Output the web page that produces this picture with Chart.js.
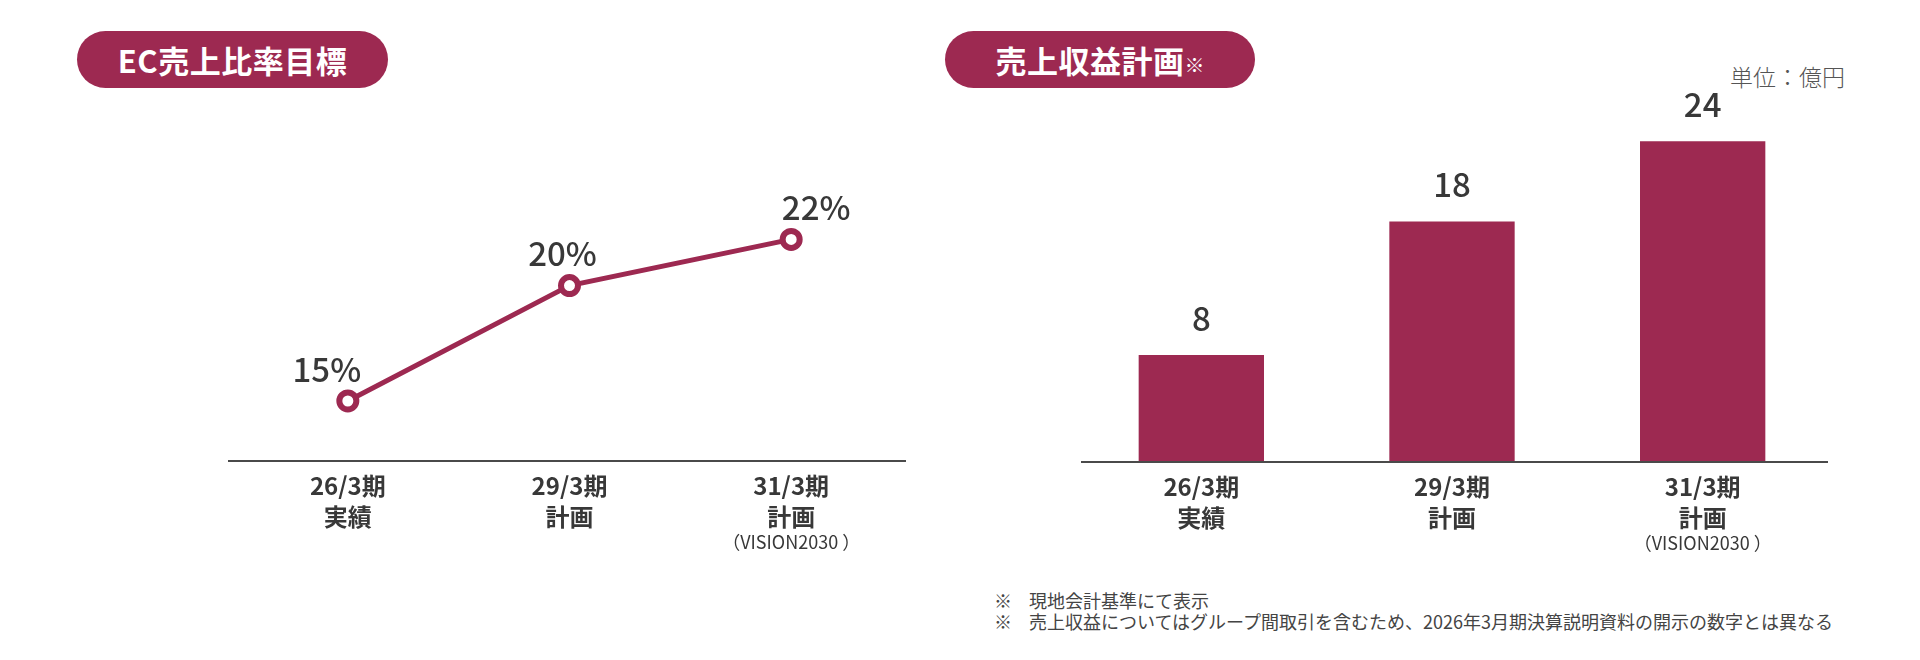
<!DOCTYPE html>
<html lang="ja">
<head>
<meta charset="utf-8">
<script src="https://cdn.jsdelivr.net/npm/chart.js@4.4.1/dist/chart.umd.min.js"></script>
<style>
  html, body { margin: 0; padding: 0; background: #fff; }
  body { width: 1920px; height: 660px; position: relative; overflow: hidden;
         font-family: "Noto Sans CJK JP", "Noto Sans", sans-serif; }
  .pill { position: absolute; top: 31px; height: 57px; border-radius: 29px;
          background: #9d2951; color: #fff; font-weight: bold; font-size: 31px;
          line-height: 57px; text-align: center; letter-spacing: 0.5px; }
  .pill small { font-size: 20px; font-weight: normal; letter-spacing: 0; }
  #unit { position: absolute; right: 75px; top: 61px; font-size: 23px; font-weight: 300;
          color: #555; line-height: 30px; }
  .note { position: absolute; left: 994px; font-size: 18px; color: #444; line-height: 21px;
          white-space: nowrap; }
  .note span { display: inline-block; width: 35px; }
  canvas { position: absolute; top: 0; }
</style>
</head>
<body>
<div class="pill" style="left:77px;width:311px;">EC売上比率目標</div>
<div class="pill" style="left:945px;width:310px;">売上収益計画<small>※</small></div>
<div id="unit">単位：億円</div>
<div class="note" style="top:590px;"><span>※</span>現地会計基準にて表示</div>
<div class="note" style="top:611px;"><span>※</span>売上収益についてはグループ間取引を含むため、2026年3月期決算説明資料の開示の数字とは異なる</div>

<canvas id="ecChart" width="960" height="660" style="left:0;"></canvas>
<canvas id="salesChart" width="960" height="660" style="left:960px;"></canvas>

<script>
// data
const periods = ["26/3期", "29/3期", "31/3期"];
const periodKinds = ["実績", "計画", "計画"];
const periodNotes = ["", "", "（VISION2030 ）"];

const ecRatio = [15, 20, 22];      // %
const revenue = [8, 18, 24];       // 億円

const wine = "#9d2951";
const textColor = "#383838";
const fontFamily = '"Noto Sans CJK JP", "Noto Sans", sans-serif';

// baseline + category labels under the plot area
function axisLabels(overLeft, overRight) {
  return {
    id: "axisLabels",
    afterDraw(chart) {
      const { ctx, chartArea } = chart;
      const x = chart.scales.x;
      ctx.save();
      ctx.strokeStyle = "#4a4a4a";
      ctx.lineWidth = 2;
      ctx.beginPath();
      ctx.moveTo(chartArea.left - overLeft, chartArea.bottom);
      ctx.lineTo(chartArea.right + overRight, chartArea.bottom);
      ctx.stroke();

      ctx.fillStyle = textColor;
      ctx.textAlign = "center";
      ctx.textBaseline = "middle";
      periods.forEach((p, i) => {
        const px = x.getPixelForValue(i);
        ctx.font = "bold 24px " + fontFamily;
        ctx.fillText(p, px, chartArea.bottom + 25);
        ctx.fillText(periodKinds[i], px, chartArea.bottom + 56);
        if (periodNotes[i]) {
          ctx.font = "18px " + fontFamily;
          ctx.fillText(periodNotes[i], px, chartArea.bottom + 81);
        }
      });
      ctx.restore();
    },
  };
}

// value labels over points / bars
function valueLabels(suffix, dx, dy) {
  return {
    id: "valueLabels",
    afterDatasetsDraw(chart) {
      const { ctx } = chart;
      const meta = chart.getDatasetMeta(0);
      const data = chart.data.datasets[0].data;
      ctx.save();
      ctx.fillStyle = textColor;
      ctx.font = "500 33px " + fontFamily;
      ctx.textAlign = "center";
      ctx.textBaseline = "middle";
      meta.data.forEach((el, i) => {
        ctx.fillText(data[i] + suffix, el.x + dx[i], el.y + dy);
      });
      ctx.restore();
    },
  };
}

new Chart(document.getElementById("ecChart"), {
  type: "line",
  data: {
    labels: periods,
    datasets: [{
      data: ecRatio,
      borderColor: wine,
      borderWidth: 5,
      pointRadius: 8.5,
      pointBorderWidth: 6,
      pointBackgroundColor: "#fff",
      pointBorderColor: wine,
      tension: 0,
    }],
  },
  options: {
    responsive: false,
    animation: false,
    layout: { padding: { left: 237, right: 58, top: 124, bottom: 199 } },
    plugins: { legend: { display: false }, tooltip: { enabled: false } },
    scales: {
      x: { display: false, offset: true },
      y: { display: false, min: 12.4, max: 27 },
    },
  },
  plugins: [axisLabels(9, 4), valueLabels("%", [-21, -7, 25], -32)],
});

new Chart(document.getElementById("salesChart"), {
  type: "bar",
  data: {
    labels: periods,
    datasets: [{
      data: revenue,
      backgroundColor: wine,
      barPercentage: 0.5,
      categoryPercentage: 1,
    }],
  },
  options: {
    responsive: false,
    animation: false,
    layout: { padding: { left: 116, right: 92, top: 128, bottom: 198 } },
    plugins: { legend: { display: false }, tooltip: { enabled: false } },
    scales: {
      x: { display: false },
      y: { display: false, min: 0, max: 25 },
    },
  },
  plugins: [axisLabels(-5, 0), valueLabels("", [0, 0, 0], -37)],
});
</script>
</body>
</html>
